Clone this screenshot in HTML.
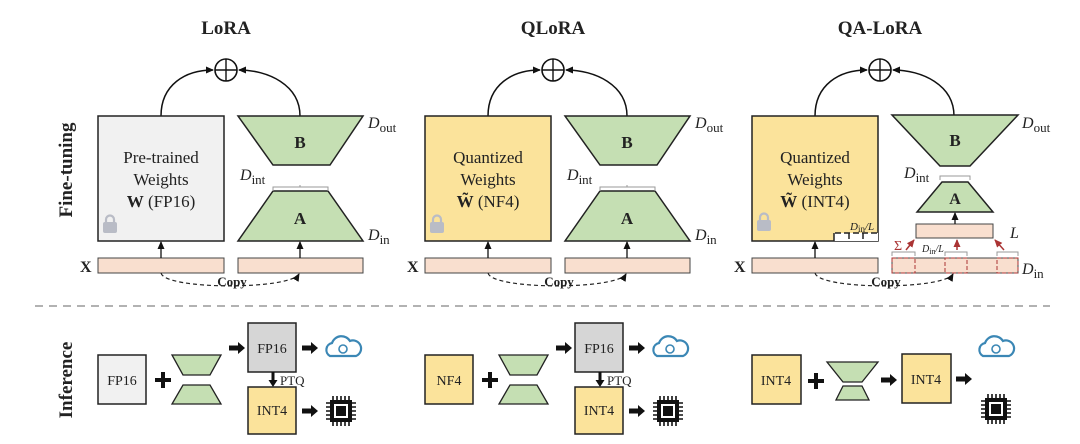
<!DOCTYPE html>
<html><head><meta charset="utf-8"><style>
html,body{margin:0;padding:0;background:#fff}
svg{display:block}
text{font-family:"Liberation Serif",serif;fill:#222}
</style></head><body>
<svg width="1080" height="444" viewBox="0 0 1080 444" xmlns="http://www.w3.org/2000/svg">
<defs>
<marker id="ah" markerUnits="userSpaceOnUse" markerWidth="8" markerHeight="8" refX="7" refY="4" orient="auto"><path d="M0,0.5 L8,4 L0,7.5 z" fill="#111"/></marker>
<marker id="ahr" markerUnits="userSpaceOnUse" markerWidth="8" markerHeight="8" refX="7" refY="4" orient="auto"><path d="M0,0.5 L8,4 L0,7.5 z" fill="#a33"/></marker>
<g id="lock"><rect x="0" y="6" width="14" height="11" rx="2" fill="#b9bcc6"/><path d="M3,6 V3.5 a4,4 0 0 1 8,0 V6" fill="none" stroke="#b9bcc6" stroke-width="2.2"/></g>
<g id="plus"><circle cx="0" cy="0" r="11" fill="#fff" stroke="#111" stroke-width="1.6"/><line x1="-11" y1="0" x2="11" y2="0" stroke="#111" stroke-width="1.4"/><line x1="0" y1="-11" x2="0" y2="11" stroke="#111" stroke-width="1.4"/></g>
<g id="cloud"><path d="M6,22 a7,7 0 0 1 2,-13 a10,10 0 0 1 18,-2 a8,8 0 0 1 6,15 z" fill="#fff" stroke="#3b87b5" stroke-width="2.2"/><circle cx="19" cy="15" r="4" fill="none" stroke="#3b87b5" stroke-width="1.6"/></g>
<g id="chip"><rect x="5" y="5" width="22" height="22" fill="#111"/><rect x="9" y="9" width="14" height="14" fill="#fff"/><rect x="11" y="11" width="10" height="10" fill="#111"/>
<path d="M8,1v4M12,1v4M16,1v4M20,1v4M24,1v4M8,27v4M12,27v4M16,27v4M20,27v4M24,27v4M1,8h4M1,12h4M1,16h4M1,20h4M1,24h4M27,8h4M27,12h4M27,16h4M27,20h4M27,24h4" stroke="#111" stroke-width="1.6"/></g>
<path id="rarr" d="M0,-2.5 H9 V-6 L16,0 L9,6 V2.5 H0 Z" fill="#111"/>
<path id="bplus" d="M-2,-8 H2 V-2 H8 V2 H2 V8 H-2 V2 H-8 V-2 H-2 Z" fill="#111"/>
</defs>

<text x="226" y="34" font-size="19" font-weight="bold" text-anchor="middle">LoRA</text>
<text x="553" y="34" font-size="19" font-weight="bold" text-anchor="middle">QLoRA</text>
<text x="880" y="34" font-size="19" font-weight="bold" text-anchor="middle">QA-LoRA</text>

<text transform="translate(72,170) rotate(-90)" font-size="19" font-weight="bold" text-anchor="middle">Fine-tuning</text>
<text transform="translate(72,380) rotate(-90)" font-size="19" font-weight="bold" text-anchor="middle">Inference</text>

<line x1="35" y1="306" x2="1050" y2="306" stroke="#999" stroke-width="1.5" stroke-dasharray="8,6"/>

<!-- LoRA -->
<g>
<path d="M161,116 C161,85 185,70 213,70" fill="none" stroke="#111" stroke-width="1.5" marker-end="url(#ah)"/>
<path d="M300,116 C300,85 268,70 239,70" fill="none" stroke="#111" stroke-width="1.5" marker-end="url(#ah)"/>
<use href="#plus" x="226" y="70"/>
<rect x="98" y="116" width="126" height="125" fill="#f1f1f1" stroke="#222" stroke-width="1.5"/>
<text x="161" y="163" font-size="17" text-anchor="middle">Pre-trained</text>
<text x="161" y="185" font-size="17" text-anchor="middle">Weights</text>
<text x="161" y="207" font-size="17" text-anchor="middle"><tspan font-weight="bold">W</tspan> (FP16)</text>
<use href="#lock" x="103" y="216"/>
<path d="M238,116 H363 L330,165 H273 Z" fill="#c5dfb3" stroke="#222" stroke-width="1.5"/>
<text x="300" y="148" font-size="17" font-weight="bold" text-anchor="middle">B</text>
<path d="M273,191 H328 L363,241 H238 Z" fill="#c5dfb3" stroke="#222" stroke-width="1.5"/>
<text x="300" y="224" font-size="17" font-weight="bold" text-anchor="middle">A</text>
<path d="M273,191 V187 H328 V191 M300,187 V185" fill="none" stroke="#999" stroke-width="1"/>
<text x="240" y="180" font-size="16" font-style="italic">D<tspan font-style="normal" font-size="13" dy="4">int</tspan></text>
<text x="368" y="128" font-size="16" font-style="italic">D<tspan font-style="normal" font-size="13" dy="4">out</tspan></text>
<text x="368" y="240" font-size="16" font-style="italic">D<tspan font-style="normal" font-size="13" dy="4">in</tspan></text>
<text x="80" y="272" font-size="16" font-weight="bold">X</text>
<rect x="98" y="258" width="126" height="15" fill="#f9dfcf" stroke="#444" stroke-width="1"/>
<rect x="238" y="258" width="125" height="15" fill="#f9dfcf" stroke="#444" stroke-width="1"/>
<line x1="161" y1="258" x2="161" y2="242" stroke="#111" stroke-width="1.3" marker-end="url(#ah)"/>
<line x1="300" y1="258" x2="300" y2="242" stroke="#111" stroke-width="1.3" marker-end="url(#ah)"/>
<path d="M161,273 C165,290 290,290 299,274" fill="none" stroke="#222" stroke-width="1.2" stroke-dasharray="4,3" marker-end="url(#ah)"/>
<text x="232" y="286" font-size="13" font-weight="bold" text-anchor="middle">Copy</text>
</g>

<!-- QLoRA -->
<g transform="translate(327,0)">
<path d="M161,116 C161,85 185,70 213,70" fill="none" stroke="#111" stroke-width="1.5" marker-end="url(#ah)"/>
<path d="M300,116 C300,85 268,70 239,70" fill="none" stroke="#111" stroke-width="1.5" marker-end="url(#ah)"/>
<use href="#plus" x="226" y="70"/>
<rect x="98" y="116" width="126" height="125" fill="#fbe39b" stroke="#222" stroke-width="1.5"/>
<text x="161" y="163" font-size="17" text-anchor="middle">Quantized</text>
<text x="161" y="185" font-size="17" text-anchor="middle">Weights</text>
<text x="161" y="207" font-size="17" text-anchor="middle"><tspan font-weight="bold">W̃</tspan> (NF4)</text>
<use href="#lock" x="103" y="216"/>
<path d="M238,116 H363 L330,165 H273 Z" fill="#c5dfb3" stroke="#222" stroke-width="1.5"/>
<text x="300" y="148" font-size="17" font-weight="bold" text-anchor="middle">B</text>
<path d="M273,191 H328 L363,241 H238 Z" fill="#c5dfb3" stroke="#222" stroke-width="1.5"/>
<text x="300" y="224" font-size="17" font-weight="bold" text-anchor="middle">A</text>
<path d="M273,191 V187 H328 V191 M300,187 V185" fill="none" stroke="#999" stroke-width="1"/>
<text x="240" y="180" font-size="16" font-style="italic">D<tspan font-style="normal" font-size="13" dy="4">int</tspan></text>
<text x="368" y="128" font-size="16" font-style="italic">D<tspan font-style="normal" font-size="13" dy="4">out</tspan></text>
<text x="368" y="240" font-size="16" font-style="italic">D<tspan font-style="normal" font-size="13" dy="4">in</tspan></text>
<text x="80" y="272" font-size="16" font-weight="bold">X</text>
<rect x="98" y="258" width="126" height="15" fill="#f9dfcf" stroke="#444" stroke-width="1"/>
<rect x="238" y="258" width="125" height="15" fill="#f9dfcf" stroke="#444" stroke-width="1"/>
<line x1="161" y1="258" x2="161" y2="242" stroke="#111" stroke-width="1.3" marker-end="url(#ah)"/>
<line x1="300" y1="258" x2="300" y2="242" stroke="#111" stroke-width="1.3" marker-end="url(#ah)"/>
<path d="M161,273 C165,290 290,290 299,274" fill="none" stroke="#222" stroke-width="1.2" stroke-dasharray="4,3" marker-end="url(#ah)"/>
<text x="232" y="286" font-size="13" font-weight="bold" text-anchor="middle">Copy</text>
</g>

<!-- QA-LoRA -->
<g transform="translate(654,0)">
<path d="M161,116 C161,85 185,70 213,70" fill="none" stroke="#111" stroke-width="1.5" marker-end="url(#ah)"/>
<path d="M300,116 C300,85 268,70 239,70" fill="none" stroke="#111" stroke-width="1.5" marker-end="url(#ah)"/>
<use href="#plus" x="226" y="70"/>
<rect x="98" y="116" width="126" height="125" fill="#fbe39b" stroke="#222" stroke-width="1.5"/>
<text x="161" y="163" font-size="17" text-anchor="middle">Quantized</text>
<text x="161" y="185" font-size="17" text-anchor="middle">Weights</text>
<text x="161" y="207" font-size="17" text-anchor="middle"><tspan font-weight="bold">W̃</tspan> (INT4)</text>
<use href="#lock" x="103" y="214"/>
<rect x="180" y="233" width="44" height="8" fill="#fff"/>
<path d="M180,241 V233 H224 M180,233 V241 M195,233 V241 M209,233 V241" fill="none" stroke="#222" stroke-width="1.5" stroke-dasharray="6,3"/>
<text x="196" y="230" font-size="11" font-style="italic">D<tspan font-style="normal" font-size="9" dy="2">in</tspan><tspan dy="-2">/L</tspan></text>
<path d="M238,115 H364 L316,166 H286 Z" fill="#c5dfb3" stroke="#222" stroke-width="1.5"/>
<text x="301" y="146" font-size="17" font-weight="bold" text-anchor="middle">B</text>
<path d="M288,182 H314 L339,212 H263 Z" fill="#c5dfb3" stroke="#222" stroke-width="1.5"/>
<text x="301" y="204" font-size="16" font-weight="bold" text-anchor="middle">A</text>
<path d="M286,180 V176 H316 V180" fill="none" stroke="#999" stroke-width="1"/>
<text x="250" y="178" font-size="16" font-style="italic">D<tspan font-style="normal" font-size="13" dy="4">int</tspan></text>
<text x="368" y="128" font-size="16" font-style="italic">D<tspan font-style="normal" font-size="13" dy="4">out</tspan></text>
<text x="368" y="274" font-size="16" font-style="italic">D<tspan font-style="normal" font-size="13" dy="4">in</tspan></text>
<text x="356" y="238" font-size="16" font-style="italic">L</text>
<rect x="262" y="224" width="77" height="14" fill="#f9dfcf" stroke="#444" stroke-width="1"/>
<line x1="301" y1="224" x2="301" y2="213" stroke="#111" stroke-width="1.3" marker-end="url(#ah)"/>
<text x="80" y="272" font-size="16" font-weight="bold">X</text>
<rect x="98" y="258" width="126" height="15" fill="#f9dfcf" stroke="#444" stroke-width="1"/>
<rect x="238" y="258" width="126" height="15" fill="#f9dfcf" stroke="#444" stroke-width="1"/>
<rect x="238" y="258" width="23" height="15" fill="none" stroke="#a33" stroke-width="1" stroke-dasharray="4,2"/>
<rect x="291" y="258" width="22" height="15" fill="none" stroke="#a33" stroke-width="1" stroke-dasharray="4,2"/>
<rect x="343" y="258" width="21" height="15" fill="none" stroke="#a33" stroke-width="1" stroke-dasharray="4,2"/>
<path d="M238,256 V252 H261 V256 M291,256 V252 H313 V256 M343,256 V252 H364 V256" fill="none" stroke="#999" stroke-width="1"/>
<line x1="252" y1="250" x2="260" y2="240" stroke="#a33" stroke-width="1.5" marker-end="url(#ahr)"/>
<line x1="303" y1="250" x2="303" y2="240" stroke="#a33" stroke-width="1.5" marker-end="url(#ahr)"/>
<line x1="350" y1="250" x2="341" y2="240" stroke="#a33" stroke-width="1.5" marker-end="url(#ahr)"/>
<text x="240" y="250" font-size="14" style="fill:#a33">Σ</text>
<text x="268" y="252" font-size="10" font-style="italic">D<tspan font-style="normal" font-size="8" dy="2">in</tspan><tspan dy="-2">/L</tspan></text>
<line x1="161" y1="258" x2="161" y2="242" stroke="#111" stroke-width="1.3" marker-end="url(#ah)"/>
<path d="M161,273 C165,290 290,290 299,274" fill="none" stroke="#222" stroke-width="1.2" stroke-dasharray="4,3" marker-end="url(#ah)"/>
<text x="232" y="286" font-size="13" font-weight="bold" text-anchor="middle">Copy</text>
</g>

<!-- Inference LoRA / QLoRA -->
<g>
<rect x="98" y="355" width="48" height="49" fill="#f1f1f1" stroke="#222" stroke-width="1.5"/>
<text x="122" y="385" font-size="14" text-anchor="middle">FP16</text>
</g>
<g transform="translate(327,0)">
<rect x="98" y="355" width="48" height="49" fill="#fbe39b" stroke="#222" stroke-width="1.5"/>
<text x="122" y="385" font-size="14" text-anchor="middle">NF4</text>
</g>
<g id="inf">
<use href="#bplus" x="163" y="380"/>
<path d="M172,355 H221 L210,375 H183 Z" fill="#c5dfb3" stroke="#222" stroke-width="1.3"/>
<path d="M183,385 H210 L221,404 H172 Z" fill="#c5dfb3" stroke="#222" stroke-width="1.3"/>
<use href="#rarr" x="229" y="348"/>
<rect x="248" y="323" width="48" height="49" fill="#d6d6d6" stroke="#222" stroke-width="1.5"/>
<text x="272" y="353" font-size="14" text-anchor="middle">FP16</text>
<use href="#rarr" x="302" y="348"/>
<use href="#cloud" x="324" y="334"/>
<path d="M271.5,372 V380 H268.5 L273,387 L277.5,380 H274.5 V372 Z" fill="#111"/>
<text x="280" y="385" font-size="13">PTQ</text>
<rect x="248" y="387" width="48" height="47" fill="#fbe39b" stroke="#222" stroke-width="1.5"/>
<text x="272" y="415" font-size="14" text-anchor="middle">INT4</text>
<use href="#rarr" x="302" y="411"/>
<use href="#chip" x="325" y="395"/>
</g>
<use href="#inf" x="327" y="0"/>

<!-- Inference QA-LoRA -->
<rect x="752" y="355" width="49" height="49" fill="#fbe39b" stroke="#222" stroke-width="1.5"/>
<text x="776" y="385" font-size="14" text-anchor="middle">INT4</text>
<use href="#bplus" x="816" y="381"/>
<path d="M827,362 H878 L862,382 H843 Z" fill="#c5dfb3" stroke="#222" stroke-width="1.3"/>
<path d="M843,386 H862 L869,400 H836 Z" fill="#c5dfb3" stroke="#222" stroke-width="1.3"/>
<use href="#rarr" x="881" y="380"/>
<rect x="902" y="354" width="49" height="49" fill="#fbe39b" stroke="#222" stroke-width="1.5"/>
<text x="926" y="384" font-size="14" text-anchor="middle">INT4</text>
<use href="#rarr" x="956" y="379"/>
<use href="#cloud" x="977" y="334"/>
<use href="#chip" x="980" y="393"/>
</svg>
</body></html>
